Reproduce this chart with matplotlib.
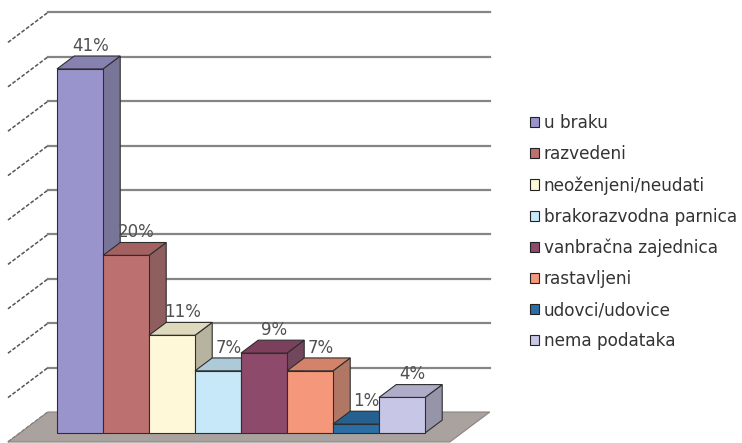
import matplotlib
matplotlib.use('Agg')
import matplotlib.pyplot as plt
from matplotlib.patches import Polygon, Patch
from matplotlib.colors import to_rgb

# data
categories = ['u braku', 'razvedeni', 'neoženjeni/neudati', 'brakorazvodna parnica',
              'vanbračna zajednica', 'rastavljeni', 'udovci/udovice', 'nema podataka']
values = [41, 20, 11, 7, 9, 7, 1, 4]
colors = ['#9A94CC', '#BD7070', '#FFF8D8', '#C6E8F8', '#8E4A6A', '#F4977A', '#2A6EA5', '#C8C6E6']
gridvals = [0, 5, 10, 15, 20, 25, 30, 35, 40, 45]

# pseudo 3d projection: x in category units, y in percent units
DX, DY = 0.87, 3.378          # shift for full depth of the floor
BAR_D0, BAR_D1 = 0.30, 0.73   # bar depth range
WALL_L, WALL_R = -0.805, 8.8


def proj(c, v, d):
    return (c + d * DX, v + d * DY)


def shade(col, f, add=0.0):
    r, g, b = to_rgb(col)
    return (r * f + add, g * f + add, b * f + add)


fig = plt.figure(figsize=(7.42, 4.43), dpi=100)
ax = fig.add_axes([0, 0, 1, 1])
ax.set_xlim(-45 / 46, 697 / 46)
ax.set_ylim(-1 / 8.88, 442 / 8.88)
ax.axis('off')

# floor
floor = [proj(WALL_L, 0, 0), proj(WALL_L, 0, 1), proj(WALL_R, 0, 1), proj(WALL_R, 0, 0)]
ax.add_patch(Polygon(floor, closed=True, facecolor='#A9A29F', edgecolor='#8A8380', lw=0.8, zorder=1))

# back wall gridlines and left wall lines
for g in gridvals[1:]:
    x0, y0 = proj(WALL_L, g, 1)
    x1, y1 = proj(WALL_R, g, 1)
    ax.plot([x0, x1], [y0, y1], color='#858585', lw=1.6, zorder=0.5)
for g in gridvals:
    xa, ya = proj(WALL_L, g, 0)
    xb, yb = proj(WALL_L, g, 1)
    ax.plot([xa, xb], [ya, yb], color='#555555', lw=1.1, ls=(0, (2.5, 1.2)), zorder=0.5)

# bars, left to right so the next front covers the previous side
ec = '#2E2E2E'
for i, (v, col) in enumerate(zip(values, colors)):
    c0, c1 = i, i + 1
    front = [proj(c0, 0, BAR_D0), proj(c0, v, BAR_D0), proj(c1, v, BAR_D0), proj(c1, 0, BAR_D0)]
    top = [proj(c0, v, BAR_D0), proj(c0, v, BAR_D1), proj(c1, v, BAR_D1), proj(c1, v, BAR_D0)]
    side = [proj(c1, 0, BAR_D0), proj(c1, v, BAR_D0), proj(c1, v, BAR_D1), proj(c1, 0, BAR_D1)]
    z = 2 + i * 0.1
    ax.add_patch(Polygon(side, closed=True, facecolor=shade(col, 0.62, 0.1), edgecolor=ec, lw=0.8, zorder=z))
    ax.add_patch(Polygon(top, closed=True, facecolor=shade(col, 0.87), edgecolor=ec, lw=0.8, zorder=z))
    ax.add_patch(Polygon(front, closed=True, facecolor=col, edgecolor=ec, lw=0.8, zorder=z + 0.05))
    lx, ly = proj(i + 0.35, v, BAR_D1)
    ax.annotate(f'{v}%', (lx, ly), xytext=(0, 1), textcoords='offset points',
                ha='center', va='bottom', fontsize=12, color='#505050', zorder=5)

# legend
handles = [Patch(facecolor=c, edgecolor='#222222', lw=0.8) for c in colors]
ax.legend(handles, categories, loc='upper left', bbox_to_anchor=(530 / 742, 1 - 114 / 443),
          frameon=False, fontsize=12.2, handlelength=0.55, handleheight=0.55,
          handletextpad=0.25, labelspacing=0.77, borderaxespad=0, borderpad=0,
          labelcolor='#333333')

fig.savefig('out.png', dpi=100)
